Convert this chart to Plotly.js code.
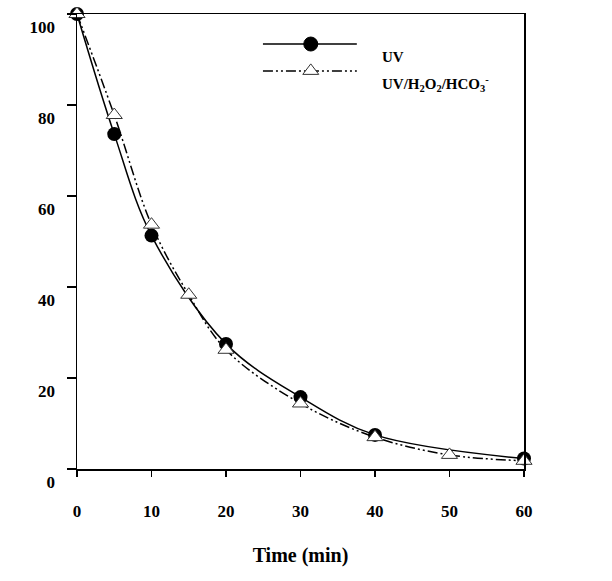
<!DOCTYPE html>
<html>
<head>
<meta charset="utf-8">
<script src="https://cdn.plot.ly/plotly-3.0.1.min.js"></script>
<style>html,body{margin:0;padding:0;background:#fff;}#chart{width:612px;height:581px;}</style>
</head>
<body>
<div id="chart"></div>
<script>
// Data
var timeUV = [0, 5, 10, 20, 30, 40, 60];
var valUV = [100, 73.6, 51.3, 27.5, 15.8, 7.5, 2.3];
var timeMix = [0, 5, 10, 15, 20, 30, 40, 50, 60];
var valMix = [100, 77.8, 53.7, 38.3, 26.2, 14.4, 7.0, 3.1, 1.8];
var xTicks = [0, 10, 20, 30, 40, 50, 60];
var yTicks = [0, 20, 40, 60, 80, 100];
var nameUV = 'UV';
var nameMix = 'UV/H<sub>2</sub>O<sub>2</sub>/HCO<sub>3</sub><sup>-</sup>';

var FONT = 'Liberation Serif, Times New Roman, serif';

var traces = [
  {
    x: timeUV, y: valUV, name: nameUV, type: 'scatter', mode: 'lines+markers',
    line: {color: '#000', width: 1.5, shape: 'spline', smoothing: 1},
    marker: {symbol: 'circle', size: 14, color: '#000'},
    cliponaxis: false, showlegend: false
  },
  {
    x: timeMix, y: valMix, name: nameMix, type: 'scatter', mode: 'lines+markers',
    line: {color: '#000', width: 1.5, shape: 'spline', smoothing: 1, dash: '10px,3px,2px,3px,2px,3px'},
    marker: {symbol: 'triangle-up', size: 14, color: '#fff', line: {color: '#333', width: 1}},
    cliponaxis: false, showlegend: false
  }
];

// legend drawn by hand (paper coords)
var lgX0 = 0.416, lgX1 = 0.626, lgXm = 0.523;
var lgY1 = 0.934, lgY2 = 0.875;

var layout = {
  width: 612, height: 581,
  margin: {l: 77, r: 88, t: 14, b: 112, pad: 0},
  paper_bgcolor: '#fff', plot_bgcolor: '#fff',
  font: {family: FONT, color: '#000'},
  showlegend: false,
  xaxis: {
    range: [0, 60], tickvals: xTicks, ticktext: xTicks.map(String),
    showgrid: false, zeroline: false, showline: true, mirror: true,
    linecolor: '#000', linewidth: 1.5, ticks: 'outside', ticklen: 6, tickwidth: 1.5, tickcolor: '#000',
    tickfont: {family: FONT, size: 17, weight: 'bold'},
    ticklabelstandoff: 20,
    title: {text: '<b>Time (min)</b>', font: {family: FONT, size: 20}, standoff: 28},
    automargin: false
  },
  yaxis: {
    range: [0, 100], tickvals: yTicks, ticktext: yTicks.map(String),
    showgrid: false, zeroline: false, showline: true, mirror: true,
    linecolor: '#000', linewidth: 1.5, ticks: 'outside', ticklen: 9, tickwidth: 1.5, tickcolor: '#000',
    tickfont: {family: FONT, size: 17, weight: 'bold'},
    ticklabelstandoff: 8, ticklabelshift: 13,
    automargin: false
  },
  shapes: [
    {type: 'line', xref: 'paper', yref: 'paper', x0: lgX0, x1: lgX1, y0: lgY1, y1: lgY1, line: {color: '#000', width: 1.5}},
    {type: 'circle', xref: 'paper', yref: 'paper', xsizemode: 'pixel', ysizemode: 'pixel',
     xanchor: lgXm, yanchor: lgY1, x0: -7, x1: 7, y0: -7, y1: 7, fillcolor: '#000', line: {color: '#000', width: 1}},
    {type: 'line', xref: 'paper', yref: 'paper', x0: lgX0, x1: lgX1, y0: lgY2, y1: lgY2, line: {color: '#000', width: 1.5, dash: '10px,3px,2px,3px,2px,3px'}},
    {type: 'path', xref: 'paper', yref: 'paper', xsizemode: 'pixel', ysizemode: 'pixel',
     xanchor: lgXm, yanchor: lgY2, path: 'M-8,-3.5 L8,-3.5 L0,7 Z', fillcolor: '#fff', line: {color: '#333', width: 1}}
  ],
  annotations: [
    {xref: 'paper', yref: 'paper', x: 0.678, y: 0.905, xanchor: 'left', yanchor: 'middle', showarrow: false,
     text: '<b>' + nameUV + '</b>', font: {family: FONT, size: 15}},
    {xref: 'paper', yref: 'paper', x: 0.678, y: 0.846, xanchor: 'left', yanchor: 'middle', showarrow: false,
     text: '<b>' + nameMix + '</b>', font: {family: FONT, size: 15}}
  ]
};

Plotly.newPlot('chart', traces, layout, {displayModeBar: false, staticPlot: true});
</script>
</body>
</html>
